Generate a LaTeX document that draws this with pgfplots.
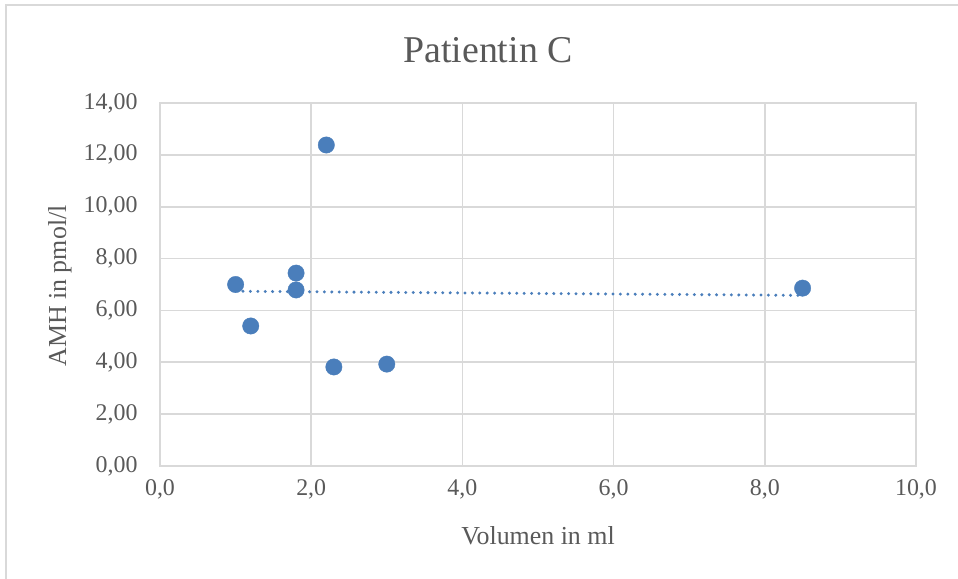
\documentclass[border=0pt]{standalone}
\usepackage{fontspec}
\setmainfont{Liberation Serif}
\usepackage{pgfplots}
\pgfplotsset{compat=1.18}
\definecolor{txt}{RGB}{89,89,89}
\definecolor{gridc}{RGB}{217,217,217}
\definecolor{dotc}{RGB}{74,126,187}
\begin{document}
\begin{tikzpicture}
\path[use as bounding box] (0,0) rectangle (958bp,579bp);
\draw[gridc, line width=2bp] (6bp,0) -- (6bp,574bp) -- (958bp,574bp);
\begin{axis}[
  at={(160bp,113bp)}, anchor=south west,
  scale only axis, width=756bp, height=363bp,
  xmin=0, xmax=10, ymin=0, ymax=14,
  xtick={0,2,4,6,8,10}, ytick={0,2,4,6,8,10,12,14},
  grid=major, major grid style={gridc, line width=1.6bp},
  axis line style={gridc, line width=1.6bp},
  major tick length=0pt,
  /pgf/number format/assume math mode=true,
  xticklabel style={/pgf/number format/.cd, use comma, fixed, fixed zerofill, precision=1, /tikz/.cd, font=\fontsize{24}{24}\selectfont, text=txt, yshift=-10bp},
  yticklabel style={/pgf/number format/.cd, use comma, fixed, fixed zerofill, precision=2, /tikz/.cd, font=\fontsize{24}{24}\selectfont, text=txt, xshift=-19bp},
  clip=false,
]
\addplot[only marks, mark=*, mark size=8.2bp, mark options={fill=dotc, draw=dotc}] coordinates {
(1.0,7.00) (1.2,5.40) (1.8,7.44) (1.8,6.79) (2.2,12.38) (2.3,3.82) (3.0,3.93) (8.5,6.86)
};
\addplot[dotc, line width=3.3bp, line cap=round, dash pattern=on 0pt off 7.4bp] coordinates {(1.0,6.74) (8.5,6.58)};
\end{axis}
\node[text=txt, font=\fontsize{38}{38}\selectfont] at (488bp,529bp) {Patientin C};
\node[text=txt, font=\fontsize{26}{26}\selectfont] at (538bp,43bp) {Volumen in ml};
\node[text=txt, font=\fontsize{26}{26}\selectfont, rotate=90] at (60bp,293bp) {AMH in pmol/l};
\end{tikzpicture}
\end{document}
